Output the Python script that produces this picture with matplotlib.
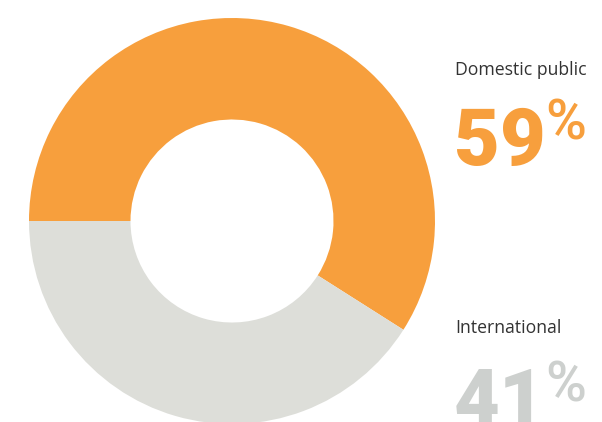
import matplotlib
matplotlib.use("Agg")
import matplotlib.pyplot as plt

labels = ["Domestic public", "International"]
values = [59, 41]
colors = ["#F79F3D", "#DDDED9"]
pct_colors = ["#F79F3D", "#CDD0CE"]

W, H = 602, 422
fig = plt.figure(figsize=(W / 100, H / 100), dpi=100)
fig.patch.set_facecolor("white")

cx, cy, R = 232, 221, 203
ax = fig.add_axes([(cx - R) / W, (H - cy - R) / H, 2 * R / W, 2 * R / H])
ax.pie(values, colors=colors, startangle=180, counterclock=False,
       radius=1, wedgeprops=dict(width=0.5, linewidth=0, antialiased=True))
ax.set_xlim(-1, 1)
ax.set_ylim(-1, 1)
ax.set_aspect("equal")
ax.axis("off")
for p in ax.patches:
    p.set_clip_on(False)

def fx(x):
    return x / W

def fy(y):
    return (H - y) / H

# labels
label_y = [75, 333]
pct_y = [165, 426]
for lab, ly, py, pc, v in zip(labels, label_y, pct_y, pct_colors, values):
    fig.text(fx(455), fy(ly), lab, fontsize=12.7, family="Open Sans",
             color="#333333", ha="left", va="baseline")
    fig.text(fx(454), fy(py), f"{v}", fontsize=57, family="Roboto",
             fontweight="black", color=pc, ha="left", va="baseline")
    fig.text(fx(545), fy(py - 25), "%", fontsize=40, family="Roboto",
             fontweight="medium", color=pc, ha="left", va="baseline")

fig.savefig("out.png", dpi=100, facecolor="white")
